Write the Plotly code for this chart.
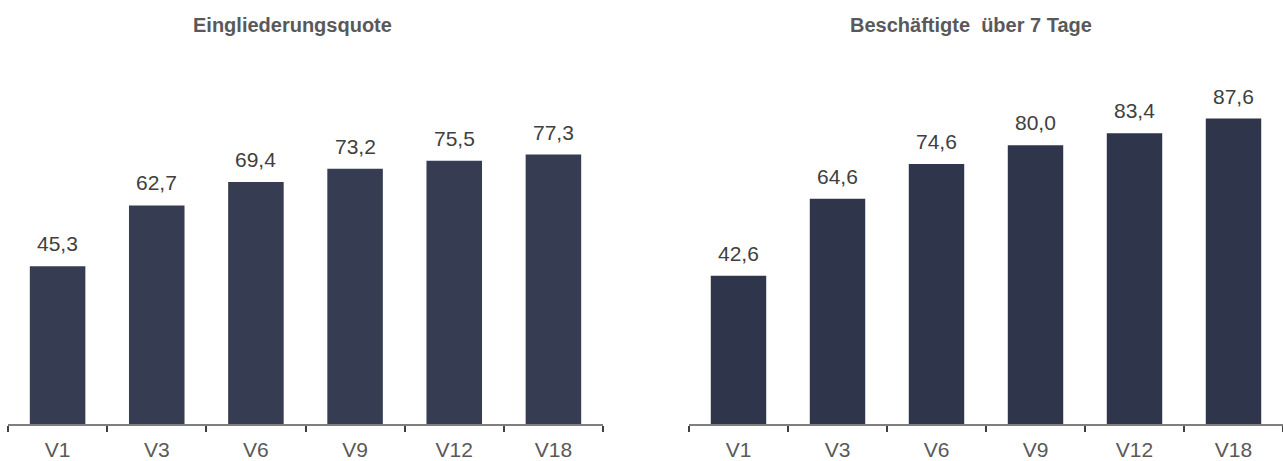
import plotly.graph_objects as go

categories = ["V1", "V3", "V6", "V9", "V12", "V18"]
quote_values = [45.3, 62.7, 69.4, 73.2, 75.5, 77.3]
beschaeftigte_values = [42.6, 64.6, 74.6, 80.0, 83.4, 87.6]
titles = ["Eingliederungsquote", "Beschäftigte  über 7 Tage"]

W, H = 1283, 461
FONT = "Liberation Sans, Arial, sans-serif"
base_px = 428          # pixel row of the category axis
top_px = 60            # pixel row of the top of the plotting area
px_per_unit = 3.52
y_bottom = (H - base_px) / H
y_top = 1 - top_px / H
y_max = (base_px - top_px) / px_per_unit

fig = go.Figure()

panels = [
    (quote_values, "#363d52", "x", "y", (8 / W, 603 / W), 292 / W),
    (beschaeftigte_values, "#2f354a", "x2", "y2", (689 / W, 1.0), 971 / W),
]

for i, (vals, color, xa, ya, dom, title_x) in enumerate(panels):
    fig.add_trace(go.Bar(
        x=categories, y=vals, marker=dict(color=color, line=dict(width=0)),
        xaxis=xa, yaxis=ya, showlegend=False, hoverinfo="skip",
    ))
    for c, v in zip(categories, vals):
        fig.add_annotation(
            x=c, y=v, xref=xa, yref=ya, text=f"{v:.1f}".replace(".", ","),
            showarrow=False, yanchor="bottom", yshift=9,
            font=dict(family=FONT, size=21, color="#404040"),
        )
    fig.add_annotation(
        x=title_x, y=1 - 25 / H, xref="paper", yref="paper", text=f"<b>{titles[i]}</b>",
        showarrow=False, xanchor="center", yanchor="middle",
        font=dict(family=FONT, size=20, color="#595959"),
    )
    sfx = "" if i == 0 else "2"
    fig.update_layout(**{
        f"xaxis{sfx}": dict(
            domain=list(dom), anchor=ya, type="category", range=[-0.5, 5.5],
            showline=True, linecolor="#7f7f7f", linewidth=1.5,
            ticks="outside", tickson="boundaries", ticklen=6, tickcolor="#404040", tickwidth=1.5,
            ticklabelstandoff=6,
            showgrid=False, zeroline=False,
            tickfont=dict(family=FONT, size=21, color="#595959"),
        ),
        f"yaxis{sfx}": dict(
            domain=[y_bottom, y_top], anchor=xa, range=[0, y_max],
            visible=False, showgrid=False, zeroline=False,
        ),
    })

fig.update_layout(
    width=W, height=H, margin=dict(l=0, r=0, t=0, b=0),
    paper_bgcolor="white", plot_bgcolor="white", bargap=0.44,
)

fig.write_html("out.html")
